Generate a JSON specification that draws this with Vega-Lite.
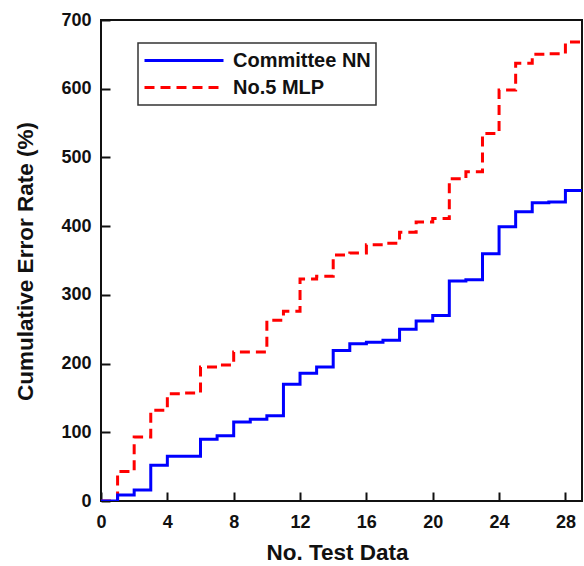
{
  "$schema": "https://vega.github.io/schema/vega-lite/v6.json",
  "width": 481,
  "height": 481,
  "autosize": {"type": "none"},
  "padding": {"left": 101, "top": 20, "right": 2, "bottom": 65},
  "background": "white",
  "config": {
    "font": "Liberation Sans",
    "view": {"stroke": "#111111", "strokeWidth": 2},
    "axis": {
      "domain": false,
      "grid": false,
      "tickColor": "#111111",
      "tickWidth": 2,
      "tickSize": -9,
      "labelFont": "Liberation Sans",
      "labelFontWeight": "bold",
      "labelFontSize": 18,
      "labelColor": "#111111",
      "titleFont": "Liberation Sans",
      "titleFontWeight": "bold",
      "titleFontSize": 22.5,
      "titleColor": "#111111"
    }
  },
  "data": {
    "values": [
      {"x": 0, "v": 0, "s": "No.5 MLP"},
      {"x": 1, "v": 43, "s": "No.5 MLP"},
      {"x": 2, "v": 93, "s": "No.5 MLP"},
      {"x": 3, "v": 132, "s": "No.5 MLP"},
      {"x": 4, "v": 156, "s": "No.5 MLP"},
      {"x": 5, "v": 157, "s": "No.5 MLP"},
      {"x": 6, "v": 195, "s": "No.5 MLP"},
      {"x": 7, "v": 198, "s": "No.5 MLP"},
      {"x": 8, "v": 217, "s": "No.5 MLP"},
      {"x": 9, "v": 217, "s": "No.5 MLP"},
      {"x": 10, "v": 263, "s": "No.5 MLP"},
      {"x": 11, "v": 276, "s": "No.5 MLP"},
      {"x": 12, "v": 323, "s": "No.5 MLP"},
      {"x": 13, "v": 327, "s": "No.5 MLP"},
      {"x": 14, "v": 358, "s": "No.5 MLP"},
      {"x": 15, "v": 361, "s": "No.5 MLP"},
      {"x": 16, "v": 373, "s": "No.5 MLP"},
      {"x": 17, "v": 375, "s": "No.5 MLP"},
      {"x": 18, "v": 391, "s": "No.5 MLP"},
      {"x": 19, "v": 406, "s": "No.5 MLP"},
      {"x": 20, "v": 411, "s": "No.5 MLP"},
      {"x": 21, "v": 469, "s": "No.5 MLP"},
      {"x": 22, "v": 479, "s": "No.5 MLP"},
      {"x": 23, "v": 535, "s": "No.5 MLP"},
      {"x": 24, "v": 598, "s": "No.5 MLP"},
      {"x": 25, "v": 637, "s": "No.5 MLP"},
      {"x": 26, "v": 650, "s": "No.5 MLP"},
      {"x": 27, "v": 651, "s": "No.5 MLP"},
      {"x": 28, "v": 668, "s": "No.5 MLP"},
      {"x": 29, "v": 668, "s": "No.5 MLP"},
      {"x": 0, "v": 0, "s": "Committee NN"},
      {"x": 1, "v": 8.7, "s": "Committee NN"},
      {"x": 2, "v": 16, "s": "Committee NN"},
      {"x": 3, "v": 52, "s": "Committee NN"},
      {"x": 4, "v": 65, "s": "Committee NN"},
      {"x": 5, "v": 65, "s": "Committee NN"},
      {"x": 6, "v": 90, "s": "Committee NN"},
      {"x": 7, "v": 95, "s": "Committee NN"},
      {"x": 8, "v": 115, "s": "Committee NN"},
      {"x": 9, "v": 119, "s": "Committee NN"},
      {"x": 10, "v": 124, "s": "Committee NN"},
      {"x": 11, "v": 170, "s": "Committee NN"},
      {"x": 12, "v": 186, "s": "Committee NN"},
      {"x": 13, "v": 195, "s": "Committee NN"},
      {"x": 14, "v": 219, "s": "Committee NN"},
      {"x": 15, "v": 229, "s": "Committee NN"},
      {"x": 16, "v": 231, "s": "Committee NN"},
      {"x": 17, "v": 234, "s": "Committee NN"},
      {"x": 18, "v": 250, "s": "Committee NN"},
      {"x": 19, "v": 262, "s": "Committee NN"},
      {"x": 20, "v": 270, "s": "Committee NN"},
      {"x": 21, "v": 320, "s": "Committee NN"},
      {"x": 22, "v": 322, "s": "Committee NN"},
      {"x": 23, "v": 360, "s": "Committee NN"},
      {"x": 24, "v": 399, "s": "Committee NN"},
      {"x": 25, "v": 421, "s": "Committee NN"},
      {"x": 26, "v": 434, "s": "Committee NN"},
      {"x": 27, "v": 435, "s": "Committee NN"},
      {"x": 28, "v": 452, "s": "Committee NN"},
      {"x": 29, "v": 452, "s": "Committee NN"}
    ]
  },
  "mark": {"type": "line", "interpolate": "step-after", "strokeWidth": 3, "clip": true},
  "encoding": {
    "x": {
      "field": "x",
      "type": "quantitative",
      "scale": {"domain": [0, 29], "nice": false, "zero": false},
      "axis": {"values": [0, 4, 8, 12, 16, 20, 24, 28], "title": "No. Test Data", "labelPadding": 21, "titlePadding": 10, "titleX": 236, "labelFlush": false}
    },
    "y": {
      "field": "v",
      "type": "quantitative",
      "scale": {"domain": [0, 700], "nice": false},
      "axis": {"values": [0, 100, 200, 300, 400, 500, 600, 700], "title": "Cumulative Error Rate (%)", "labelPadding": 19, "titleX": -76, "titleY": 241, "titleBaseline": "middle", "titleAngle": 270, "labelFlush": false}
    },
    "color": {
      "field": "s",
      "type": "nominal",
      "scale": {"domain": ["Committee NN", "No.5 MLP"], "range": ["#0000ff", "#ff0000"]},
      "legend": {
        "title": null,
        "orient": "none",
        "legendX": 37,
        "legendY": 23,
        "symbolType": "stroke",
        "symbolSize": 6241,
        "symbolStrokeWidth": 3,
        "clipHeight": 25,
        "rowPadding": 2,
        "padding": 5,
        "labelOffset": 8,
        "labelFont": "Liberation Sans",
        "labelFontWeight": "bold",
        "labelFontSize": 20,
        "labelColor": "#111111",
        "strokeColor": "#333333",
        "fillColor": "white",
        "encode": {"legend": {"update": {"strokeWidth": {"value": 1.5}}}}
      }
    },
    "strokeDash": {
      "field": "s",
      "type": "nominal",
      "scale": {"domain": ["Committee NN", "No.5 MLP"], "range": [[1, 0], [10, 6]]},
      "legend": {
        "title": null,
        "orient": "none",
        "legendX": 37,
        "legendY": 23,
        "symbolType": "stroke",
        "symbolSize": 6241,
        "symbolStrokeWidth": 3,
        "clipHeight": 25,
        "rowPadding": 2,
        "padding": 5,
        "labelOffset": 8,
        "labelFont": "Liberation Sans",
        "labelFontWeight": "bold",
        "labelFontSize": 20,
        "labelColor": "#111111",
        "strokeColor": "#333333",
        "fillColor": "white",
        "encode": {"legend": {"update": {"strokeWidth": {"value": 1.5}}}}
      }
    }
  }
}
